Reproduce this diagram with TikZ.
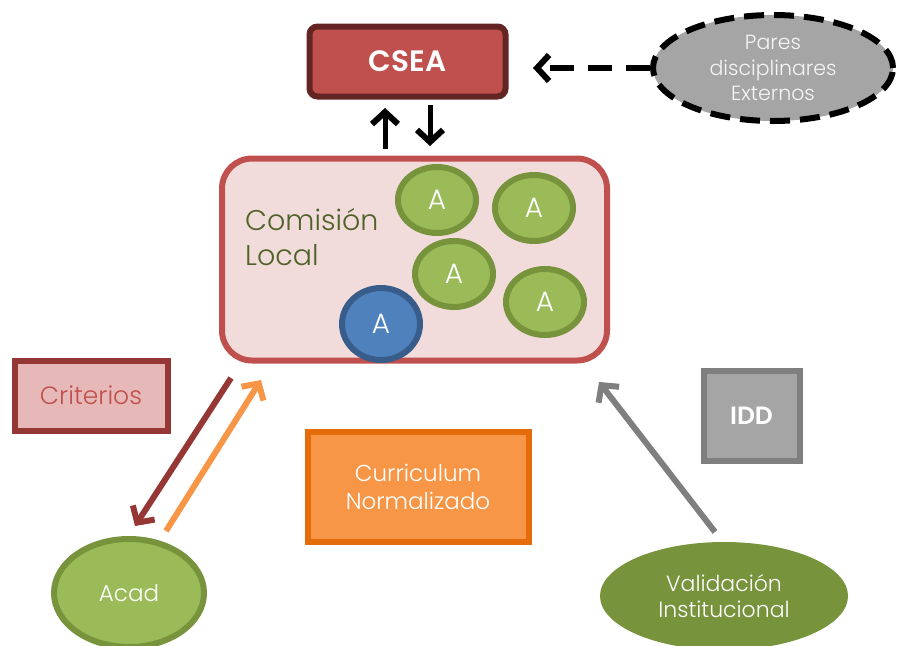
\documentclass[tikz,border=0pt]{standalone}
\usepackage{fontspec}
\setmainfont{Poppins Light}[BoldFont=Poppins SemiBold]
\usetikzlibrary{arrows.meta,shapes.geometric}
\definecolor{cred}{HTML}{C0504D}
\definecolor{cdred}{HTML}{632523}
\definecolor{cpink}{HTML}{F2DCDB}
\definecolor{cgreen}{HTML}{9BBB59}
\definecolor{cdgreen}{HTML}{77933C}
\definecolor{colive}{HTML}{4F6228}
\definecolor{cblue}{HTML}{4F81BD}
\definecolor{cdblue}{HTML}{385D8A}
\definecolor{cgray}{HTML}{A5A5A5}
\definecolor{cdgray}{HTML}{7F7F7F}
\definecolor{crose}{HTML}{E6B9B8}
\definecolor{cbrown}{HTML}{953735}
\definecolor{corange}{HTML}{F79646}
\definecolor{cdorange}{HTML}{E46C0A}
\tikzset{
  anode/.style={ellipse, minimum width=78pt, minimum height=66pt, inner sep=0pt, line width=6pt, text=white, font=\fontsize{28}{30}\selectfont},
  gnode/.style={anode, fill=cgreen, draw=cdgreen},
  bnode/.style={anode, fill=cblue, draw=cdblue},
  arr/.style={line width=6pt, -{Straight Barb[length=12pt,width=26pt,line width=6pt]}},
}
\begin{document}
\begin{tikzpicture}[x=1pt,y=-1pt]
\useasboundingbox (0,0) rectangle (901,645);
% CSEA
\node[draw=cdred, fill=cred, line width=6pt, rounded corners=8pt, minimum width=196pt, minimum height=70pt, text=white, font=\fontsize{29.5}{32}\selectfont\bfseries] (csea) at (407.5,61.5) {CSEA};
% Pares
\node[ellipse, fill=cgray, draw=black, line width=6pt, dash pattern=on 20pt off 10pt, minimum width=240pt, minimum height=106pt, inner sep=0pt, align=center, text=white!92!gray, font=\fontsize{20.5}{25.5}\selectfont] (pares) at (773,68) {Pares\\disciplinares\\Externos};
\coordinate (cseaR) at (533,68);
\draw[line width=6pt, dash pattern=on 24pt off 14pt, -{Straight Barb[length=12pt,width=26pt,line width=6pt]}] (pares.west) -- (cseaR);
% Comision local
\node[draw=cred, fill=cpink, line width=6pt, rounded corners=30pt, minimum width=385pt, minimum height=202pt] (cl) at (414.5,259.5) {};
\node[anchor=north west, align=left, text=colive, font=\fontsize{28.5}{35}\selectfont, inner sep=0pt] (cltext) at (245,208) {Comisión\\Local};
\coordinate (u0) at (385,149);
\coordinate (u1) at (385,108);
\coordinate (d0) at (430,105);
\coordinate (d1) at (430,146);
\draw[arr, line width=5pt] (u0) -- (u1);
\draw[arr, line width=5pt] (d0) -- (d1);
\node[gnode] (a1) at (437,200) {A};
\node[gnode] (a2) at (534,208) {A};
\node[gnode] (a3) at (454,274) {A};
\node[gnode] (a4) at (545,302) {A};
\node[bnode, minimum height=72pt] (a5) at (381,324) {A};
% Criterios
\node[draw=cbrown, fill=crose, line width=6pt, minimum width=153pt, minimum height=70pt, text=cred, font=\fontsize{25}{28}\selectfont] (crit) at (91,395.5) {Criterios};
% Curriculum
\node[draw=cdorange, fill=corange, line width=6pt, minimum width=221pt, minimum height=110pt, align=center, text=white, font=\fontsize{23}{28}\selectfont] (curr) at (418,486.5) {Curriculum\\Normalizado};
% IDD
\node[draw=cdgray, fill=cgray, line width=6pt, minimum width=96pt, minimum height=90pt, text=white, font=\fontsize{25}{28}\selectfont\bfseries] (idd) at (751.5,415.5) {IDD};
% Acad
\node[ellipse, fill=cgreen, draw=cdgreen, line width=6pt, minimum width=150pt, minimum height=108pt, inner sep=0pt, text=white, font=\fontsize{23}{26}\selectfont] (acad) at (129,593) {Acad};
% Validacion
\node[ellipse, fill=cdgreen, minimum width=248pt, minimum height=108pt, inner sep=0pt, align=center, text=white, font=\fontsize{22}{26}\selectfont] (val) at (724,596) {Validación\\Institucional};
% arrows
\coordinate (p1) at (231,378);
\coordinate (p2) at (135,526);
\coordinate (p3) at (166,531);
\coordinate (p4) at (261,380);
\coordinate (p5) at (715,532);
\coordinate (p6) at (599,382);
\draw[arr, cbrown] (p1) -- (p2);
\draw[arr, corange] (p3) -- (p4);
\draw[arr, cdgray] (p5) -- (p6);
\end{tikzpicture}
\end{document}
